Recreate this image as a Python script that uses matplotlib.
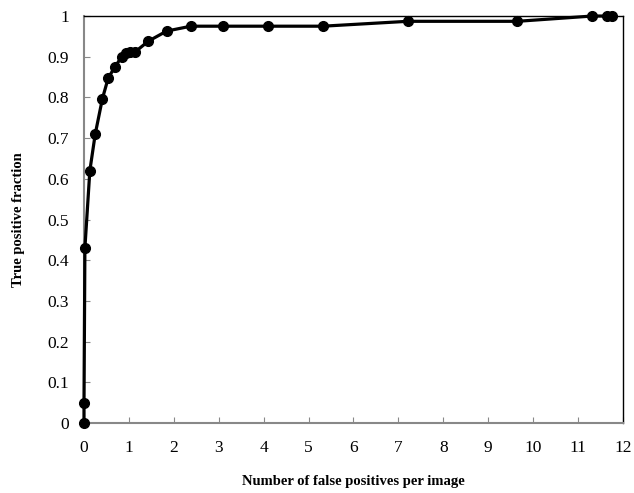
import matplotlib

matplotlib.use("Agg")

import matplotlib.pyplot as plt  # noqa: E402

# FROC curve
FALSE_POSITIVES = [0.0, 0.0, 0.02, 0.13, 0.25, 0.41, 0.54, 0.69, 0.84, 0.93,
                   1.02, 1.14, 1.43, 1.84, 2.38, 3.10, 4.10, 5.32, 7.21,
                   9.65, 11.32, 11.64, 11.75]
TRUE_POSITIVE_FRACTION = [0.0, 0.05, 0.43, 0.62, 0.71, 0.797, 0.848, 0.875,
                          0.90, 0.91, 0.912, 0.912, 0.938, 0.963, 0.975,
                          0.975, 0.975, 0.975, 0.987, 0.987, 1.0, 1.0, 1.0]

X_TICKS = list(range(0, 13))
Y_TICKS = [i / 10 for i in range(0, 11)]
Y_TICK_LABELS = ["0", "0.1", "0.2", "0.3", "0.4", "0.5", "0.6", "0.7",
                 "0.8", "0.9", "1"]

plt.rcParams["font.family"] = ["Liberation Serif", "DejaVu Serif"]

fig = plt.figure(figsize=(6.34, 4.93), dpi=100)
ax = fig.add_axes([0.1325, 0.142, 0.85, 0.8255])

ax.plot(FALSE_POSITIVES, TRUE_POSITIVE_FRACTION, color="black",
        linewidth=2.3, marker="o", markersize=7, clip_on=False, zorder=3)

ax.set_xlim(0, 12)
ax.set_ylim(0, 1)
ax.set_xticks(X_TICKS)
ax.set_yticks(Y_TICKS)
ax.set_yticklabels(Y_TICK_LABELS)
ax.tick_params(direction="in", length=4, color="#888888", labelsize=12.5)
ax.tick_params(axis="y", pad=11)
ax.tick_params(axis="x", pad=12)

for side in ("left", "bottom"):
    ax.spines[side].set_color("#888888")
    ax.spines[side].set_linewidth(1.5)
for side in ("top", "right"):
    ax.spines[side].set_color("black")
    ax.spines[side].set_linewidth(1.0)

ax.set_xlabel("Number of false positives per image", fontweight="bold",
              fontsize=10.5, labelpad=14)
ax.set_ylabel("True positive fraction", fontweight="bold", fontsize=10.5,
              labelpad=16)

fig.savefig("out.png", dpi=100)
